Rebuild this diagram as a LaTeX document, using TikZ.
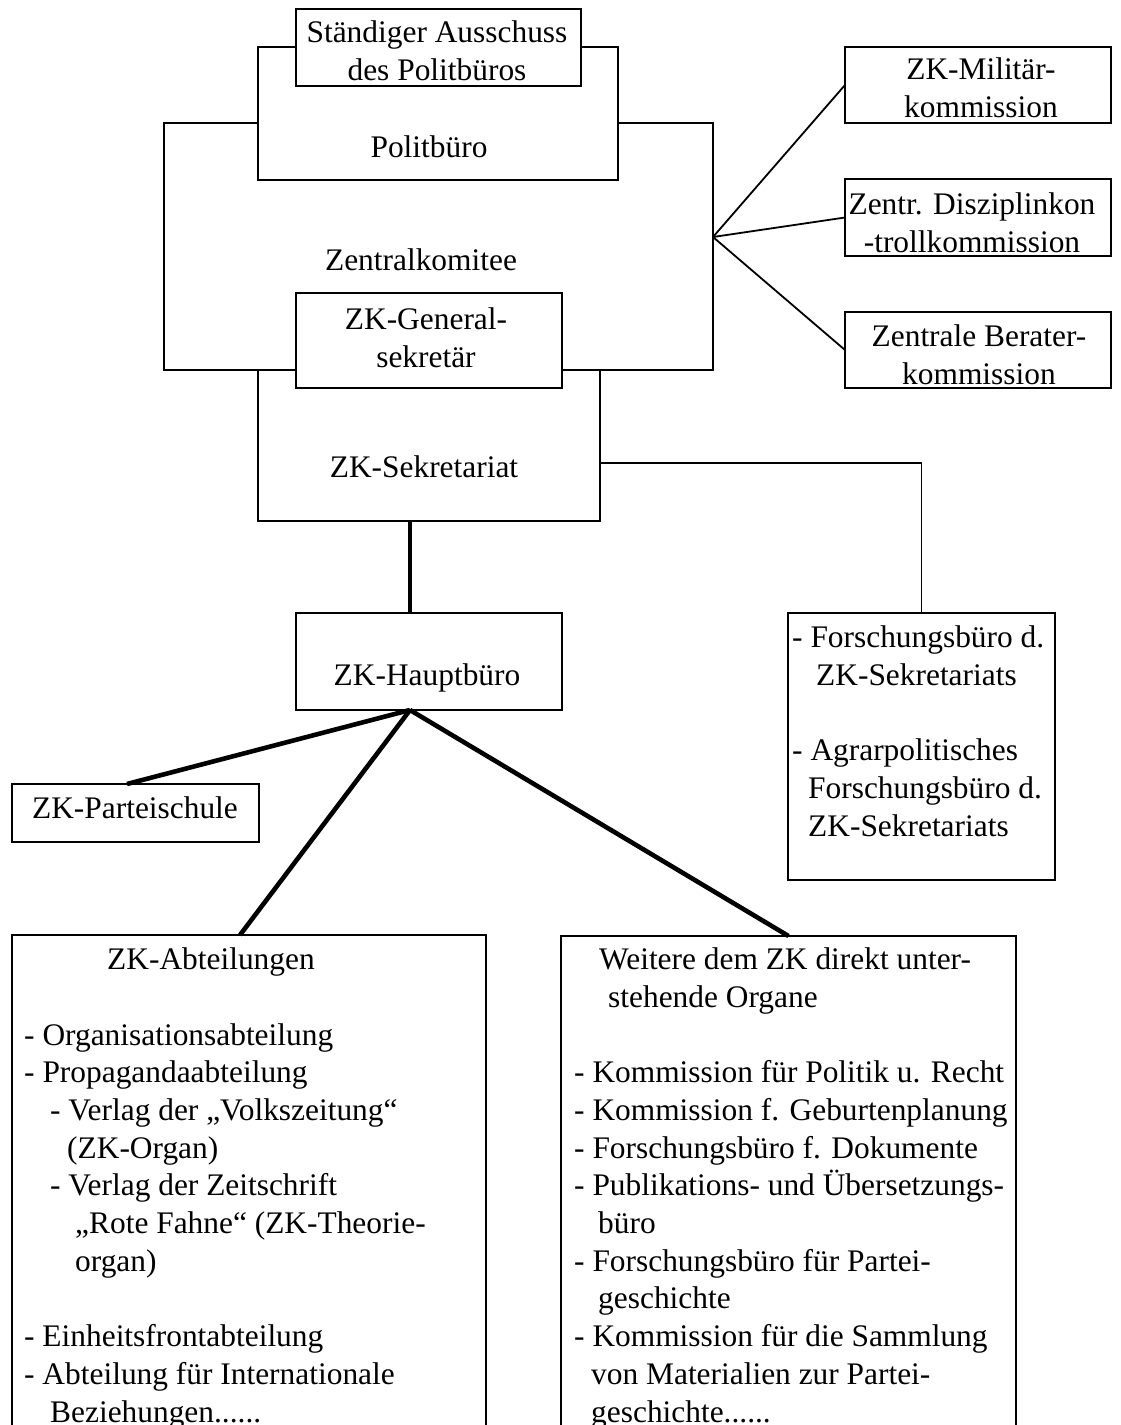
\documentclass[tikz,border=0pt]{standalone}
\usepackage{fontspec}
\setmainfont{Liberation Serif}
\usetikzlibrary{calc}
\begin{document}
\begin{tikzpicture}[x=1pt,y=-1pt,
  every node/.style={font=\fontsize{31.4}{37.7}\selectfont},
  box/.style={draw, line width=1.8pt, fill=white, inner sep=0pt, outer sep=0pt},
  thinline/.style={line width=1.8pt},
  heavyline/.style={line width=4.6pt},
  lbl/.style={inner sep=0pt},
  two/.style={inner sep=0pt, anchor=north, align=center},
  lst/.style={inner sep=0pt, anchor=north west, align=left},
]
\useasboundingbox[fill=white] (0,0) rectangle (1120,1425);

% Zentralkomitee container
\node[box, minimum width=549pt, minimum height=247pt] (zk) at (438.5,246.5) {};
\node[box, minimum width=342pt, minimum height=151pt] (sek) at (429,445.5) {};
\node[box, minimum width=360pt, minimum height=133pt] (pb) at (438,113.5) {};
\node[box, minimum width=285pt, minimum height=77pt] (sa) at (438.5,47.5) {};
\node[two] (sat) at (437,20.6) {Ständiger Ausschuss\\des Politbüros};
\node[box, minimum width=266pt, minimum height=95pt] (gs) at (429,340.5) {};
\node[two] (gst) at (426,307.6) {ZK-General-\\sekretär};

\node[lbl] (pbt) at (429,147) {Politbüro};
\node[lbl] (zkt) at (421,260) {Zentralkomitee};
\node[lbl] (sekt) at (424,467) {ZK-Sekretariat};

% right commissions
\node[box, minimum width=266pt, minimum height=76pt] (mil) at (978,85) {};
\node[two] (milt) at (981,57.6) {ZK-Militär-\\kommission};
\node[box, minimum width=266pt, minimum height=77pt] (disz) at (978,217.5) {};
\node[two] (diszt) at (972,192.6) {Zentr. Disziplinkon\\-trollkommission};
\node[box, minimum width=266pt, minimum height=76pt] (ber) at (978,350) {};
\node[two] (bert) at (979,324.6) {Zentrale Berater-\\kommission};
\coordinate (fan) at (713,237);
\draw[thinline] (fan) -- (mil.west);
\draw[thinline] (fan) -- (disz.west);
\draw[thinline] (fan) -- (ber.west);

% Hauptbuero
\node[box, minimum width=266pt, minimum height=97pt] (hb) at (429,661.5) {};
\node[lbl] (hbt) at (427,678) {ZK-Hauptbüro};
\draw[heavyline] ([xshift=-19pt]sek.south) -- ([xshift=-19pt]hb.north);

% Forschungsbuero box
\node[box, minimum width=267pt, minimum height=267pt] (fb) at (921.5,746.5) {};
\node[lst] (fbt) at (792,625.6) {- Forschungsbüro d.\\
\hspace*{24pt}ZK-Sekretariats\\[37.7pt]
- Agrarpolitisches\\
\hspace*{16pt}Forschungsbüro d.\\
\hspace*{16pt}ZK-Sekretariats};
\draw[thinline] ([yshift=-17.5pt]sek.east) -| (fb.north);

% Parteischule
\node[box, minimum width=247pt, minimum height=58pt] (ps) at (135.5,813) {};
\node[lbl] (pst) at (135,808) {ZK-Parteischule};

% bottom boxes
\node[box, minimum width=474pt, minimum height=493pt] (abt) at (249,1181.5) {};
\node[box, minimum width=455pt, minimum height=492pt] (weit) at (788.5,1182) {};
\node[lst] (abtt) at (24,947.6) {\hspace*{83pt}ZK-Abteilungen\\[37.7pt]
- Organisationsabteilung\\
- Propagandaabteilung\\
\hspace*{26pt}- Verlag der „Volkszeitung“\\
\hspace*{43pt}(ZK-Organ)\\
\hspace*{26pt}- Verlag der Zeitschrift\\
\hspace*{51pt}„Rote Fahne“ (ZK-Theorie-\\
\hspace*{51pt}organ)\\[37.7pt]
- Einheitsfrontabteilung\\
- Abteilung für Internationale\\
\hspace*{26pt}Beziehungen......};
\node[lst] (weitt) at (574,947.6) {\hspace*{25pt}Weitere dem ZK direkt unter-\\
\hspace*{34pt}stehende Organe\\[37.7pt]
- Kommission für Politik u. Recht\\
- Kommission f. Geburtenplanung\\
- Forschungsbüro f. Dokumente\\
- Publikations- und Übersetzungs-\\
\hspace*{24pt}büro\\
- Forschungsbüro für Partei-\\
\hspace*{24pt}geschichte\\
- Kommission für die Sammlung\\
\hspace*{17pt}von Materialien zur Partei-\\
\hspace*{17pt}geschichte......};

% heavy connectors from Hauptbuero
\coordinate (apex) at ([xshift=-19pt]hb.south);
\draw[heavyline] (apex) -- ([xshift=-8.5pt]ps.north);
\draw[heavyline] (apex) -- ([xshift=-9pt]abt.north);
\draw[heavyline] (apex) -- (weit.north);
\end{tikzpicture}
\end{document}
